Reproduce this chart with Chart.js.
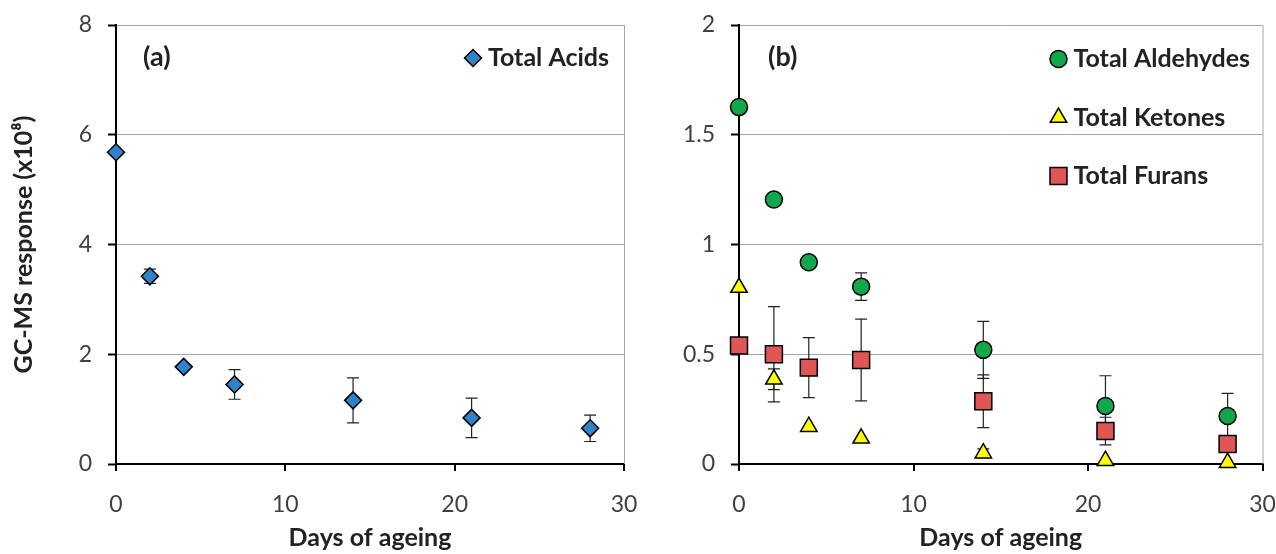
<!DOCTYPE html>
<html>
<head>
<meta charset="utf-8">
<script src="https://cdn.jsdelivr.net/npm/chart.js@4.4.1/dist/chart.umd.min.js"></script>
<style>
  html, body { margin: 0; padding: 0; background: #fff; }
  #wrap { position: relative; width: 1276px; height: 554px; }
  canvas { position: absolute; top: 0; }
</style>
</head>
<body>
<div id="wrap">
  <canvas id="chartA" width="640" height="554" style="left:0"></canvas>
  <canvas id="chartB" width="636" height="554" style="left:640px"></canvas>
</div>
<script>
// days of ageing (x values)
const days = [0, 2, 4, 7, 14, 21, 28];

// panel (a)
const acids = [5.68, 3.42, 1.77, 1.45, 1.16, 0.84, 0.65];
const acidsErr = [0, 0.13, 0.05, 0.27, 0.41, 0.36, 0.24];

// panel (b)
const aldehydes = [1.626, 1.205, 0.919, 0.808, 0.52, 0.264, 0.219];
const aldehydesErr = [0, 0, 0, 0.063, 0.13, 0.138, 0.103];
const ketones = [0.804, 0.386, 0.17, 0.117, 0.049, 0.015, 0.006];
const ketonesErr = [0, 0.047, 0, 0, 0.02, 0, 0];
const furans = [0.54, 0.50, 0.439, 0.474, 0.286, 0.150, 0.091];
const furansErr = [0, 0.217, 0.137, 0.186, 0.12, 0.063, 0.03];

const xTicks = [0, 10, 20, 30];
const yTicksA = [0, 2, 4, 6, 8];
const yTicksB = [0, 0.5, 1, 1.5, 2];

const FONT = 'Lato, "Open Sans", sans-serif';
const TEXT = '#222';

const pts = vals => days.map((d, i) => ({ x: d, y: vals[i] }));

// vertical error bars with caps, drawn under the markers
const errorBars = {
    id: 'errorBars',
    beforeDatasetsDraw(chart) {
        const { ctx, scales: { x, y } } = chart;
        ctx.save();
        ctx.strokeStyle = '#222';
        ctx.lineWidth = 1.2;
        chart.data.datasets.forEach(ds => {
            if (!ds.err) return;
            ds.data.forEach((p, i) => {
                const e = ds.err[i];
                if (!e) return;
                const px = x.getPixelForValue(p.x);
                const top = y.getPixelForValue(p.y + e);
                const bot = y.getPixelForValue(p.y - e);
                ctx.beginPath();
                ctx.moveTo(px, top); ctx.lineTo(px, bot);
                ctx.moveTo(px - 6, top); ctx.lineTo(px + 6, top);
                ctx.moveTo(px - 6, bot); ctx.lineTo(px + 6, bot);
                ctx.stroke();
            });
        });
        ctx.restore();
    }
};

// right frame line, panel tag and the in-plot legend
const panelDecor = {
    id: 'panelDecor',
    afterDraw(chart, args, opts) {
        const { ctx, chartArea: a } = chart;
        ctx.save();
        ctx.strokeStyle = '#a6a6a6';
        ctx.lineWidth = 1;
        ctx.beginPath();
        ctx.moveTo(a.right + 0.5, a.top);
        ctx.lineTo(a.right + 0.5, a.bottom);
        ctx.stroke();

        ctx.textBaseline = 'middle';
        ctx.textAlign = 'left';
        ctx.fillStyle = TEXT;
        ctx.font = 'bold 27px ' + FONT;
        ctx.fillText(opts.tag, a.left + opts.tagX, a.top + opts.tagY);

        ctx.font = 'bold 25px ' + FONT;
        chart.data.datasets.forEach((ds, i) => {
            const cy = a.top + opts.rowY + i * opts.rowGap;
            const cx = a.right - opts.legendRight;
            ctx.fillStyle = ds.backgroundColor;
            ctx.strokeStyle = ds.borderColor;
            ctx.lineWidth = ds.borderWidth;
            Chart.helpers.drawPoint(ctx, {
                pointStyle: ds.pointStyle,
                radius: ds.pointRadius,
                borderWidth: ds.borderWidth
            }, cx, cy);
            ctx.fillStyle = TEXT;
            ctx.fillText(ds.label, cx + 15, cy);
        });
        ctx.restore();
    }
};

function makeOptions(yTicks, yMax, yWidth, yTitle, padRight, decor) {
    return {
        responsive: false,
        animation: false,
        events: [],
        layout: { padding: { top: 25, right: padRight, bottom: 0, left: 0 } },
        plugins: {
            legend: { display: false },
            tooltip: { enabled: false },
            panelDecor: decor
        },
        scales: {
            x: {
                type: 'linear',
                min: 0, max: 30,
                afterBuildTicks: s => { s.ticks = xTicks.map(v => ({ value: v })); },
                afterFit: s => { s.height = 90; s.paddingLeft = 0; s.paddingRight = 0; },
                grid: { drawOnChartArea: false, tickLength: 7, tickColor: '#000', lineWidth: 2 },
                border: { color: '#000', width: 2 },
                ticks: { color: '#404040', padding: 20, font: { family: FONT, size: 23 }, callback: v => String(v) },
                title: {
                    display: true, text: 'Days of ageing', color: TEXT,
                    font: { family: FONT, size: 25, weight: 'bold' },
                    padding: { top: 0, bottom: 1 }
                }
            },
            y: {
                type: 'linear',
                min: 0, max: yMax,
                afterBuildTicks: s => { s.ticks = yTicks.map(v => ({ value: v })); },
                afterFit: s => { s.width = yWidth; s.paddingTop = 0; s.paddingBottom = 0; },
                grid: { color: '#a6a6a6', lineWidth: 1, tickLength: 8, tickColor: '#000', tickWidth: 2 },
                border: { color: '#000', width: 2 },
                ticks: { color: '#404040', padding: 16, font: { family: FONT, size: 23 }, callback: v => String(v) },
                title: {
                    display: !!yTitle, text: yTitle, color: TEXT,
                    font: { family: FONT, size: 25, weight: 'bold' },
                    padding: { top: 9, bottom: 0 }
                }
            }
        }
    };
}

new Chart(document.getElementById('chartA'), {
    type: 'scatter',
    data: {
        datasets: [{
            label: 'Total Acids',
            data: pts(acids),
            err: acidsErr,
            clip: false,
            pointStyle: 'rectRot',
            pointRadius: 8.5,
            backgroundColor: '#2f83c9',
            borderColor: '#000',
            borderWidth: 1.5
        }]
    },
    options: makeOptions(yTicksA, 8, 116, 'GC-MS response (x10\u2078)', 16,
        { tag: '(a)', tagX: 27, tagY: 32, rowY: 33, rowGap: 58.5, legendRight: 151 }),
    plugins: [errorBars, panelDecor]
});

new Chart(document.getElementById('chartB'), {
    type: 'scatter',
    data: {
        datasets: [{
            label: 'Total Aldehydes',
            data: pts(aldehydes),
            err: aldehydesErr,
            clip: false,
            pointStyle: 'circle',
            pointRadius: 8.5,
            backgroundColor: '#10a84a',
            borderColor: '#000',
            borderWidth: 1.5
        }, {
            label: 'Total Ketones',
            data: pts(ketones),
            err: ketonesErr,
            clip: false,
            pointStyle: 'triangle',
            pointRadius: 9.5,
            backgroundColor: '#ffff00',
            borderColor: '#000',
            borderWidth: 1.5
        }, {
            label: 'Total Furans',
            data: pts(furans),
            err: furansErr,
            clip: false,
            pointStyle: 'rect',
            pointRadius: 12,
            backgroundColor: '#e05555',
            borderColor: '#000',
            borderWidth: 1.5
        }]
    },
    options: makeOptions(yTicksB, 2, 99, '', 13,
        { tag: '(b)', tagX: 29, tagY: 32, rowY: 34, rowGap: 58.5, legendRight: 204 }),
    plugins: [errorBars, panelDecor]
});
</script>
</body>
</html>
